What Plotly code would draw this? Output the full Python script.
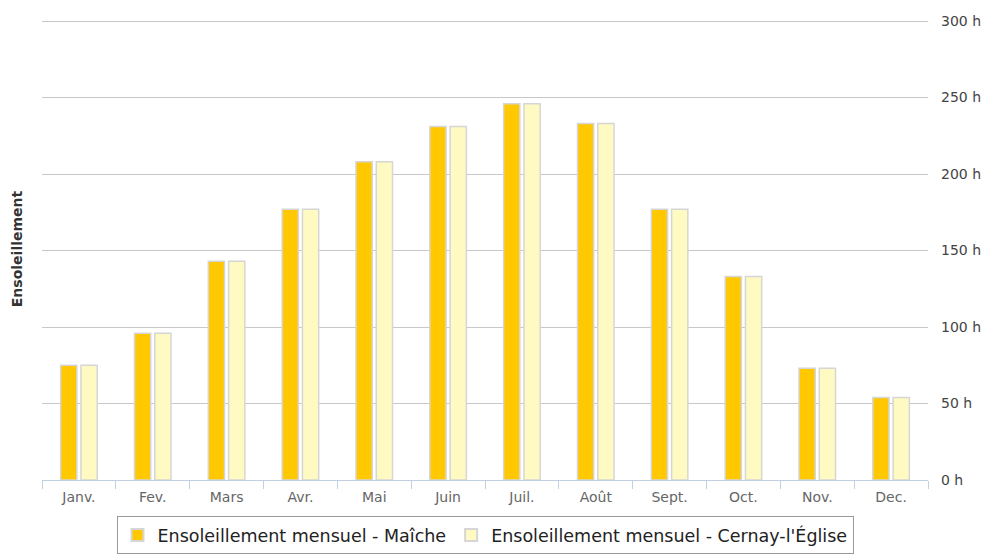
import plotly.graph_objects as go

months = ["Janv.", "Fev.", "Mars", "Avr.", "Mai", "Juin", "Juil.", "Août", "Sept.", "Oct.", "Nov.", "Dec."]
maiche = [75, 96, 143, 177, 208, 231, 246, 233, 177, 133, 73, 54]
cernay = [75, 96, 143, 177, 208, 231, 246, 233, 177, 133, 73, 54]
name_maiche = "Ensoleillement mensuel - Maîche"
name_cernay = "Ensoleillement mensuel - Cernay-l'Église"
y_ticks = [0, 50, 100, 150, 200, 250, 300]
y_labels = [f"{v} h" for v in y_ticks]

font_family = "DejaVu Sans, Verdana, sans-serif"

fig = go.Figure()
fig.add_trace(go.Bar(x=months, y=maiche, name=name_maiche,
                     marker=dict(color="#FFC800", line=dict(color="#d6d6d6", width=1.5))))
fig.add_trace(go.Bar(x=months, y=cernay, name=name_cernay,
                     marker=dict(color="#FFFAC2", line=dict(color="#d6d6d6", width=1.5))))

fig.update_layout(
    width=982, height=546,
    margin=dict(l=34, r=62, t=10, b=74, autoexpand=False),
    paper_bgcolor="white", plot_bgcolor="white",
    barmode="group", bargap=0.45, bargroupgap=0.2,
    font=dict(family=font_family, size=13, color="#333"),
    showlegend=True,
    legend=dict(orientation="h", x=0.5, xanchor="center", y=-0.078, yanchor="top",
                bordercolor="#999", borderwidth=1, font=dict(size=17.5, color="#222"),
                itemsizing="constant", traceorder="normal"),
    xaxis=dict(tickson="boundaries", ticks="outside", ticklen=8, tickcolor="#C0D0E0",
               showline=True, linecolor="#C0D0E0", linewidth=1, showgrid=False,
               automargin=False, ticklabelstandoff=4,
               tickfont=dict(size=14, color="#666")),
    yaxis=dict(side="right", range=[0, 302], tickvals=y_ticks, ticktext=y_labels,
               showgrid=True, gridcolor="#C8C8C8", gridwidth=1, zeroline=False,
               automargin=False,
               ticks="", tickfont=dict(size=14, color="#444"), ticklabelstandoff=12),
)
fig.add_annotation(text="<b>Ensoleillement</b>", xref="paper", yref="paper",
                   x=-0.028, y=0.5, textangle=-90, showarrow=False,
                   font=dict(size=14, color="#333"), xanchor="center", yanchor="middle")

fig.write_html("out.html")
